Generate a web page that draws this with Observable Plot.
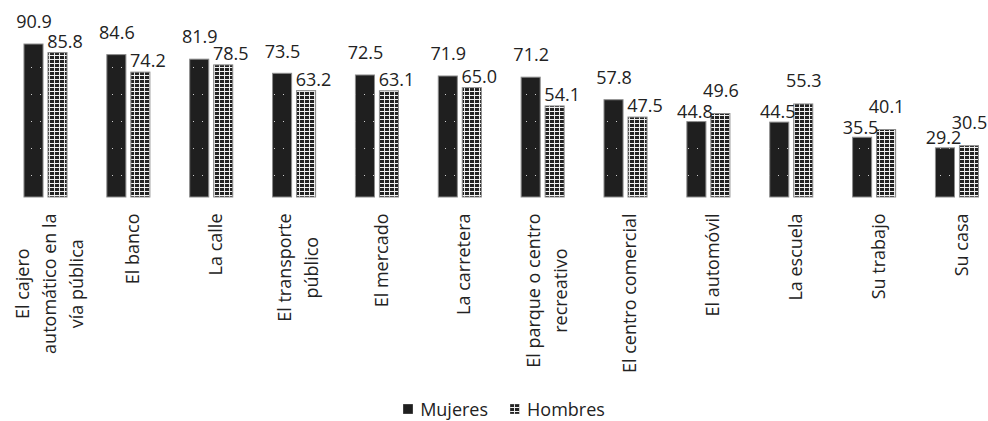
<!DOCTYPE html>
<html>
<head>
<meta charset="utf-8">
<script src="https://cdn.jsdelivr.net/npm/d3@7"></script>
<script src="https://cdn.jsdelivr.net/npm/@observablehq/plot@0.6"></script>
<style>
  html, body { margin: 0; padding: 0; background: #fff; }
  body { width: 988px; height: 421px; overflow: hidden; font-family: "Open Sans", sans-serif; }
  #legend { display: flex; justify-content: center; align-items: center; gap: 22px; font-size: 18px; color: #222; line-height: 24px; margin-top: 5px; padding-left: 20px; }
  #legend span.item { display: flex; align-items: center; gap: 7px; }
</style>
</head>
<body>
<svg width="0" height="0" style="position:absolute">
  <defs>
    <pattern id="pM" patternUnits="userSpaceOnUse" width="9" height="27">
      <rect width="9" height="27" fill="#1f1f1f"></rect>
      <rect x="4" y="13" width="1" height="1" fill="#cfcfcf"></rect>
    </pattern>
    <pattern id="pH" patternUnits="userSpaceOnUse" width="5" height="4">
      <rect width="5" height="4" fill="#232323"></rect>
      <rect x="0" y="3" width="5" height="1" fill="#f2f2f2"></rect>
      <rect x="4" y="0" width="1" height="3" fill="#e6e6e6"></rect>
    </pattern>
  </defs>
</svg>
<div id="chart"></div>
<div id="legend"></div>
<script>
const categories = [
  "El cajero\nautomático en la\nvía pública",
  "El banco",
  "La calle",
  "El transporte\npúblico",
  "El mercado",
  "La carretera",
  "El parque o centro\nrecreativo",
  "El centro comercial",
  "El automóvil",
  "La escuela",
  "Su trabajo",
  "Su casa"
];
const series = ["Mujeres", "Hombres"];
const mujeres = [90.9, 84.6, 81.9, 73.5, 72.5, 71.9, 71.2, 57.8, 44.8, 44.5, 35.5, 29.2];
const hombres = [85.8, 74.2, 78.5, 63.2, 63.1, 65.0, 54.1, 47.5, 49.6, 55.3, 40.1, 30.5];

const rows = [];
categories.forEach((c, i) => {
  rows.push({cat: c, serie: "Mujeres", value: mujeres[i], taller: mujeres[i] >= hombres[i]});
  rows.push({cat: c, serie: "Hombres", value: hombres[i], taller: hombres[i] > mujeres[i]});
});

const FONT = "18px 'Open Sans'";
const ctx = document.createElement("canvas").getContext("2d");
ctx.font = FONT;
const longest = c => d3.max(c.split("\n"), l => ctx.measureText(l).width);

const fillOf = {Mujeres: "url(#pM)", Hombres: "url(#pH)"};
const inset = {Mujeres: [19.9, 43.9], Hombres: [43.9, 19.9]};

const barMarks = series.map(s => Plot.barY(rows.filter(d => d.serie === s), {
  x: "cat", y: "value",
  fill: fillOf[s], stroke: "#8c8c8c", strokeWidth: 1,
  insetLeft: inset[s][0], insetRight: inset[s][1]
}));

const labelSpec = [
  {serie: "Mujeres", taller: true,  dx: -12, dy: -22},
  {serie: "Mujeres", taller: false, dx: -14, dy: -10},
  {serie: "Hombres", taller: true,  dx: 12,  dy: -23},
  {serie: "Hombres", taller: false, dx: 19,  dy: -11}
];
const valueMarks = labelSpec.map(sp => Plot.text(rows.filter(d => d.serie === sp.serie && d.taller === sp.taller), {
  x: "cat", y: "value", text: d => d.value.toFixed(1),
  dx: sp.dx, dy: sp.dy, fontSize: 18, fill: "#222", fontFamily: "Open Sans"
}));

const catMarks = categories.map(c => Plot.text([c], {
  x: d => d, text: d => d, frameAnchor: "bottom",
  rotate: -90, textAnchor: "middle", lineAnchor: "middle", lineHeight: 1.5,
  dx: 1.5, dy: 16 + longest(c) / 2,
  fontSize: 18, fill: "#222", fontFamily: "Open Sans"
}));

const chart = Plot.plot({
  width: 988,
  height: 392,
  marginTop: 28.7,
  marginBottom: 195,
  marginLeft: 0,
  marginRight: 0,
  style: {fontFamily: "Open Sans", background: "#fff", overflow: "visible"},
  x: {domain: categories, range: [4.07, 998.4], padding: 0, round: false, axis: null},
  y: {domain: [0, 100], axis: null},
  marks: [...barMarks, ...valueMarks, ...catMarks]
});
document.getElementById("chart").appendChild(chart);

const legend = document.getElementById("legend");
series.forEach(s => {
  const item = document.createElement("span");
  item.className = "item";
  item.innerHTML = `<svg width="10" height="10"><rect width="10" height="10" fill="${fillOf[s]}" stroke="#8c8c8c" stroke-width="0.6"></rect></svg><span>${s}</span>`;
  legend.appendChild(item);
});
</script>
</body>
</html>
